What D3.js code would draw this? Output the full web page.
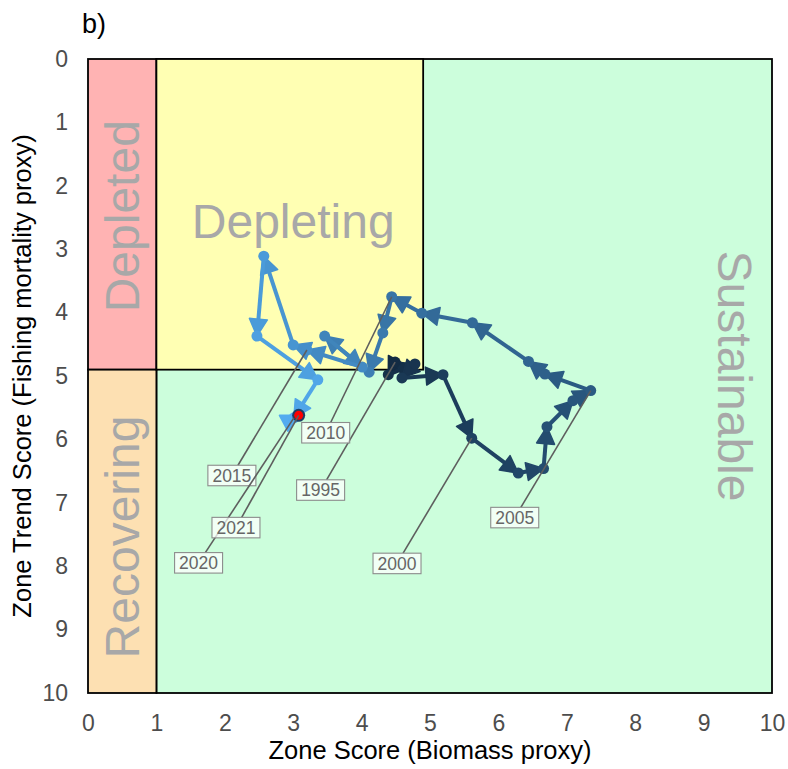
<!DOCTYPE html>
<html>
<head>
<meta charset="utf-8">
<script src="https://cdn.jsdelivr.net/npm/d3@7"></script>
<style>
  body { margin: 0; background: #ffffff; }
  text { font-family: "Liberation Sans", Arial, sans-serif; }
</style>
</head>
<body>
<svg id="chart" width="788" height="769"></svg>
<script>
// ---- Data -------------------------------------------------------------
const years = [1995, 1996, 1997, 1998, 1999, 2000, 2001, 2002, 2003, 2004,
               2005, 2006, 2007, 2008, 2009, 2010, 2011, 2012, 2013, 2014,
               2015, 2016, 2017, 2018, 2019, 2020, 2021];
// Zone score (biomass proxy)
const biomassScore = [4.49, 4.39, 4.78, 4.59, 5.19, 5.61, 6.29, 6.66, 6.71, 7.09,
                      7.35, 6.68, 6.44, 5.62, 4.88, 4.44, 4.31, 4.11, 3.46, 4.01,
                      3.20, 3.00, 2.57, 2.47, 3.36, 3.01, 3.08];
// Zone trend score (fishing mortality proxy)
const trendScore = [4.78, 4.98, 4.81, 5.03, 4.98, 5.98, 6.53, 6.46, 5.80, 5.39,
                    5.23, 4.97, 4.77, 4.16, 4.01, 3.75, 4.32, 4.94, 4.37, 4.86,
                    4.59, 4.51, 3.11, 4.37, 5.06, 5.66, 5.62];
const labelledYears = [1995, 2000, 2005, 2010, 2015, 2020, 2021];

const xTicks = [0, 1, 2, 3, 4, 5, 6, 7, 8, 9, 10];
const yTicks = [0, 1, 2, 3, 4, 5, 6, 7, 8, 9, 10];

// Stock status zones
const zoneNames = ["Sustainable", "Depleted", "Recovering", "Depleting"];
const zoneX0 = [1, 0, 0, 1];
const zoneX1 = [10, 1, 1, 4.9];
const zoneY0 = [0, 0, 4.9, 0];
const zoneY1 = [10, 4.9, 10, 4.9];
const zoneFill = ["#ccfedc", "#ffb3b3", "#fde0b2", "#ffffb3"];

// ---- Layout -----------------------------------------------------------
const svg = d3.select("#chart");
const x = d3.scaleLinear().domain([0, 10]).range([88, 772]);
const y = d3.scaleLinear().domain([0, 10]).range([59, 693]);
const colour = d3.scaleLinear()
  .domain([d3.min(years), d3.max(years)])
  .range(["#132B43", "#56B1F7"])
  .interpolate(d3.interpolateLab);

// label box offsets from their point (pixels)
const labelOffset = {
  1995: [-74.5, 128], 2000: [-74.7, 125.3], 2005: [-76, 127],
  2010: [-66, 136], 2015: [-75, 125.5], 2020: [-95.3, 145], 2021: [-62.7, 112.3]
};

// zone title placement
const zoneTitle = {
  Depleted:    { x: 0.5, y: 2.48, rot: -90 },
  Recovering:  { x: 0.5, y: 7.54, rot: -90 },
  Depleting:   { x: 3.0, y: 2.45, rot: 0 },
  Sustainable: { x: 9.5, y: 5.0,  rot: 90 }
};

// ---- Zones ------------------------------------------------------------
const gZones = svg.append("g");
zoneNames.forEach((name, i) => {
  gZones.append("rect")
    .attr("x", x(zoneX0[i]))
    .attr("y", y(zoneY0[i]))
    .attr("width", x(zoneX1[i]) - x(zoneX0[i]))
    .attr("height", y(zoneY1[i]) - y(zoneY0[i]))
    .attr("fill", zoneFill[i])
    .attr("stroke", "#000")
    .attr("stroke-width", 1.8);
});

const zoneFont = 48;
zoneNames.forEach(name => {
  const t = zoneTitle[name];
  let px = x(t.x), py = y(t.y);
  if (t.rot === -90) px += 0.36 * zoneFont;
  if (t.rot === 90) px -= 0.41 * zoneFont;
  if (t.rot === 0) py += 0.5 * zoneFont;
  svg.append("text")
    .attr("transform", `translate(${px},${py}) rotate(${t.rot})`)
    .attr("text-anchor", "middle")
    .attr("font-size", zoneFont)
    .attr("fill", "#a8a8a8")
    .text(name);
});

// ---- Trajectory -------------------------------------------------------
const pts = years.map((yr, i) => ({ year: yr, px: x(biomassScore[i]), py: y(trendScore[i]) }));
const gPath = svg.append("g");
const headLen = 17, headHalf = 9;
for (let i = 0; i < pts.length - 1; i++) {
  const a = pts[i], b = pts[i + 1];
  const c = colour(a.year);
  gPath.append("line")
    .attr("x1", a.px).attr("y1", a.py)
    .attr("x2", b.px).attr("y2", b.py)
    .attr("stroke", c).attr("stroke-width", 4);
  const dx = b.px - a.px, dy = b.py - a.py;
  const len = Math.hypot(dx, dy) || 1;
  const ux = dx / len, uy = dy / len;
  const bx = b.px - headLen * ux, by = b.py - headLen * uy;
  const nx = -uy, ny = ux;
  gPath.append("path")
    .attr("d", `M${b.px},${b.py}L${bx + headHalf * nx},${by + headHalf * ny}L${bx - headHalf * nx},${by - headHalf * ny}Z`)
    .attr("fill", c).attr("stroke", c).attr("stroke-width", 1.5).attr("stroke-linejoin", "round");
}
gPath.selectAll("circle.pt")
  .data(pts)
  .join("circle")
  .attr("class", "pt")
  .attr("cx", d => d.px).attr("cy", d => d.py)
  .attr("r", 5.5)
  .attr("fill", d => colour(d.year));

// latest year highlighted
const last = pts[pts.length - 1];
svg.append("circle").attr("cx", last.px).attr("cy", last.py).attr("r", 6.5).attr("fill", "#1f3d63");
svg.append("circle").attr("cx", last.px).attr("cy", last.py).attr("r", 4.5).attr("fill", "#ff0000");

// ---- Year labels ------------------------------------------------------
const gLab = svg.append("g");
const boxW = 48, boxH = 20.5, labFont = 17.5;
labelledYears.forEach(yr => {
  const p = pts[years.indexOf(yr)];
  const off = labelOffset[yr];
  const cx = p.px + off[0], cy = p.py + off[1];
  const dx = p.px - cx, dy = p.py - cy;
  const t = Math.min((boxW / 2) / Math.abs(dx || 1e-9), (boxH / 2) / Math.abs(dy || 1e-9));
  gLab.append("line")
    .attr("x1", cx + t * dx).attr("y1", cy + t * dy)
    .attr("x2", p.px).attr("y2", p.py)
    .attr("stroke", "#5e5e5e").attr("stroke-width", 1.6);
  gLab.append("rect")
    .attr("x", cx - boxW / 2).attr("y", cy - boxH / 2)
    .attr("width", boxW).attr("height", boxH)
    .attr("fill", "#ffffff").attr("fill-opacity", 0.72)
    .attr("stroke", "#8c8c8c").attr("stroke-width", 1.1);
  gLab.append("text")
    .attr("x", cx).attr("y", cy + 0.36 * labFont)
    .attr("text-anchor", "middle")
    .attr("font-size", labFont)
    .attr("fill", "#666")
    .text(yr);
});

// ---- Axes -------------------------------------------------------------
const xAxis = svg.append("g")
  .attr("transform", `translate(0,${y(10)})`)
  .call(d3.axisBottom(x).tickValues(xTicks).tickSize(0).tickPadding(22).tickFormat(d3.format("d")));
const yAxis = svg.append("g")
  .attr("transform", `translate(${x(0)},0)`)
  .call(d3.axisLeft(y).tickValues(yTicks).tickSize(0).tickPadding(20).tickFormat(d3.format("d")));
[xAxis, yAxis].forEach(g => {
  g.select(".domain").remove();
  g.selectAll("text")
    .attr("font-size", 23)
    .attr("fill", "#4d4d4d")
    .attr("font-family", "'Liberation Sans', Arial, sans-serif");
});

svg.append("text")
  .attr("x", x(5)).attr("y", 759)
  .attr("text-anchor", "middle")
  .attr("font-size", 25.5)
  .attr("fill", "#000")
  .text("Zone Score (Biomass proxy)");

svg.append("text")
  .attr("transform", `translate(31,${y(5)}) rotate(-90)`)
  .attr("text-anchor", "middle")
  .attr("font-size", 25.5)
  .attr("fill", "#000")
  .text("Zone Trend Score (Fishing mortality proxy)");

svg.append("text")
  .attr("x", 82).attr("y", 33)
  .attr("font-size", 27)
  .attr("fill", "#000")
  .text("b)");
</script>
</body>
</html>
